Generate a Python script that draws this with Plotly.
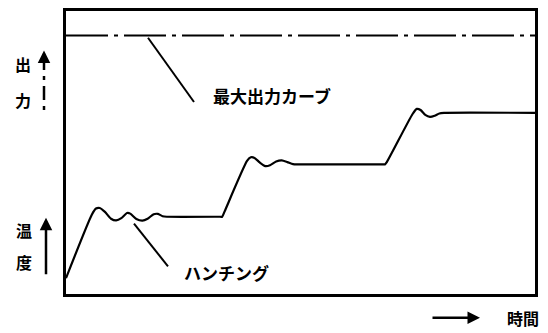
import plotly.graph_objects as go

# temperature curve (time, temperature)
time = [0, 5.5, 6.4, 7.2, 8.3, 9.6, 10.7, 11.8, 13.0, 13.7, 15.0, 16.3, 17.4, 18.7, 19.6,
        20.6, 21.5, 32.9, 33.3, 33.8,
        38.6, 39.4, 40.2, 41.3, 42.5, 43.5, 44.8, 46.0, 47.2, 48.4, 49.5, 67.6, 68.0, 68.4,
        73.9, 74.8, 75.6, 76.6, 77.6, 78.6, 79.6, 80.6, 100]
temp = [5.6, 28.0, 30.2, 30.4, 29.0, 26.6, 26.0, 26.8, 28.6, 28.4, 26.5, 25.9, 26.6, 28.2, 28.3,
        27.5, 27.3, 27.3, 27.3, 29.1,
        47.0, 48.3, 48.1, 46.5, 45.2, 45.5, 46.8, 47.2, 46.6, 45.9, 45.8, 45.8, 45.8, 46.6,
        63.6, 65.4, 65.0, 63.3, 62.6, 63.0, 63.8, 64.0, 64.0]
max_output = 91.3

FONT = "Noto Sans CJK JP"
L, R, T, B = 66, 535, 8, 294
W, H = R - L, B - T


def px(x):
    return (x - L) / W


def py(y):
    return (B - y) / H


fig = go.Figure()

fig.add_trace(go.Scatter(
    x=time, y=temp, mode="lines",
    line=dict(color="black", width=2.2, shape="spline", smoothing=0.6),
    hoverinfo="skip", showlegend=False
))

fig.add_trace(go.Scatter(
    x=[0, 100], y=[max_output, max_output], mode="lines",
    line=dict(color="black", width=2, dash="42px,6px,4px,6px"),
    hoverinfo="skip", showlegend=False
))

shapes = [
    # leader lines
    dict(type="line", xref="paper", yref="paper", x0=px(148), y0=py(35), x1=px(194), y1=py(100),
         line=dict(color="black", width=2)),
    dict(type="line", xref="paper", yref="paper", x0=px(134), y0=py(223), x1=px(168), y1=py(266),
         line=dict(color="black", width=2)),
    # dashed output arrow shaft
    dict(type="line", xref="paper", yref="paper", x0=px(44), y0=py(108), x1=px(44), y1=py(56),
         line=dict(color="black", width=2.5, dash="4px,6px,14px,6px")),
]

black = dict(size=16, family=FONT, color="black")


def label(text, x, y, anchor="center", size=16):
    return dict(text="<b>%s</b>" % text, xref="paper", yref="paper", x=px(x), y=py(y),
                xanchor=anchor, yanchor="middle", showarrow=False, font=dict(black, size=size))


annotations = [
    label("最大出力カーブ", 211, 93, "left", 17),
    label("ハンチング", 182, 272, "left", 17),
    label("出", 23, 62),
    label("力", 23, 98),
    label("温", 24, 229),
    label("度", 24, 262),
    label("時間", 523, 318),
    # arrowheads
    dict(text="", xref="paper", yref="paper", x=px(44), y=py(48), ax=0, ay=10,
         showarrow=True, arrowhead=2, arrowsize=1, arrowwidth=2.5, arrowcolor="black"),
    dict(text="", xref="paper", yref="paper", x=px(46), y=py(217), ax=0, ay=58,
         showarrow=True, arrowhead=2, arrowsize=1, arrowwidth=2.5, arrowcolor="black"),
    dict(text="", xref="paper", yref="paper", x=px(480), y=py(318), ax=-49, ay=0,
         showarrow=True, arrowhead=2, arrowsize=1, arrowwidth=2.5, arrowcolor="black"),
]

fig.update_layout(
    width=548, height=333,
    margin=dict(l=L, r=548 - R, t=T, b=333 - B),
    paper_bgcolor="white", plot_bgcolor="white",
    shapes=shapes, annotations=annotations,
    xaxis=dict(range=[0, 100], showgrid=False, zeroline=False, showticklabels=False, ticks="",
               showline=True, linecolor="black", linewidth=2.5, mirror=True, fixedrange=True),
    yaxis=dict(range=[0, 100], showgrid=False, zeroline=False, showticklabels=False, ticks="",
               showline=True, linecolor="black", linewidth=2.5, mirror=True, fixedrange=True),
)

fig.write_html("out.html", config={"displayModeBar": False},
               post_script="document.body.style.margin='0';")
